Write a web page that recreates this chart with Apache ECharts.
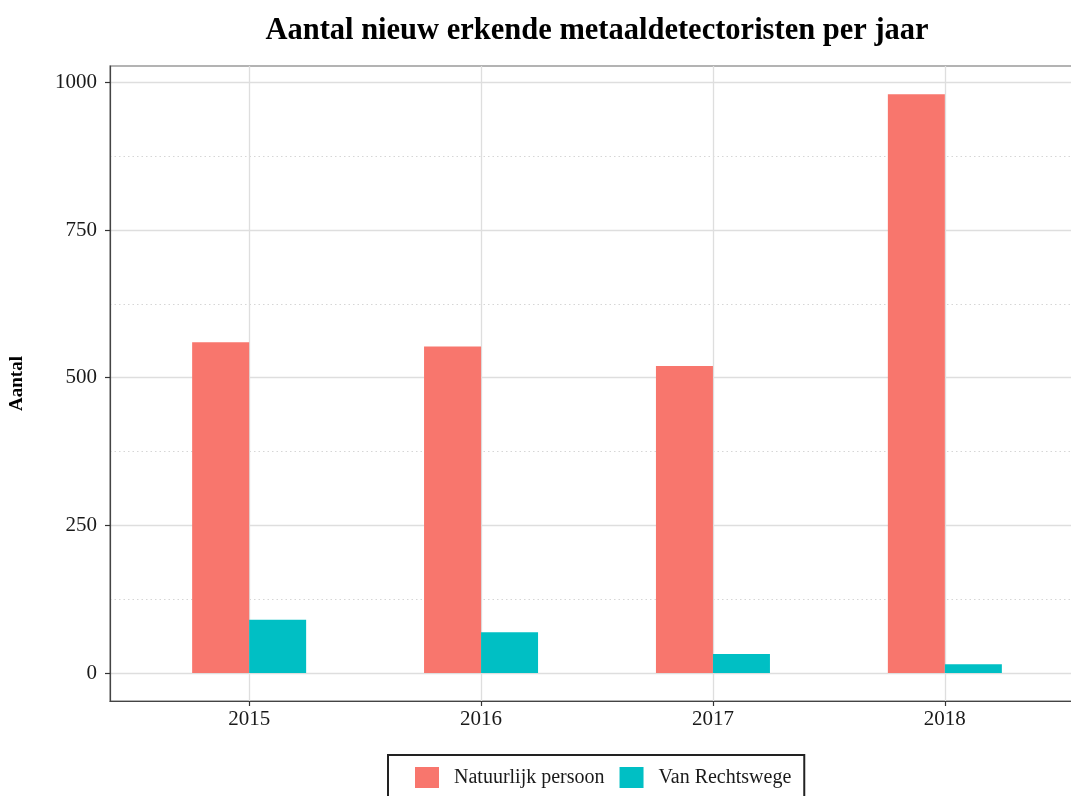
<!DOCTYPE html>
<html>
<head>
<meta charset="utf-8">
<script src="https://cdn.jsdelivr.net/npm/echarts@6/dist/echarts.min.js"></script>
<style>html,body{margin:0;padding:0;background:#fff;}#c{width:1071px;height:796px;}</style>
</head>
<body>
<div id="c"></div>
<script>
const categories = ['2015', '2016', '2017', '2018'];
const natuurlijkPersoon = [560, 553, 520, 980];
const vanRechtswege = [90, 69, 32, 15];
const yTicks = [0, 250, 500, 750, 1000];
const yMinorTicks = [125, 375, 625, 875];
const seriesNames = ['Natuurlijk persoon', 'Van Rechtswege'];

const FONT = '"Liberation Serif", "DejaVu Serif", serif';
const xPos = categories.map((c, i) => i + 1);
const toData = arr => arr.map((v, i) => [xPos[i], v]);

const chart = echarts.init(document.getElementById('c'), null, {renderer: 'canvas'});
chart.setOption({
  backgroundColor: '#ffffff',
  animation: false,
  title: {
    text: 'Aantal nieuw erkende metaaldetectoristen per jaar',
    left: 597, top: 16, padding: 0, textAlign: 'center',
    textStyle: {fontFamily: FONT, fontWeight: 'bold', fontSize: 30.5, color: '#000'}
  },
  legend: {
    data: seriesNames,
    left: 388, top: 755,
    orient: 'horizontal',
    icon: 'rect',
    itemWidth: 24, itemHeight: 21,
    itemGap: 15,
    padding: [12, 13, 12, 27],
    borderColor: '#222', borderWidth: 2,
    textStyle: {fontFamily: FONT, fontSize: 20, color: '#1a1a1a', padding: [0, 0, 0, 10]}
  },
  grid: {
    left: 110, top: 66, right: -13, bottom: 95,
    outerBoundsMode: 'none',
    show: true, borderColor: '#9a9a9a', borderWidth: 1.5,
    containLabel: false
  },
  xAxis: {
    type: 'value', min: 0.4, max: 4.6,
    axisLine: {show: true, onZero: false, lineStyle: {color: '#444', width: 1.2}},
    axisTick: {show: true, customValues: xPos, length: 5, lineStyle: {color: '#333', width: 1.2}},
    axisLabel: {customValues: xPos, margin: 8, fontFamily: FONT, fontSize: 21, color: '#1a1a1a',
      formatter: v => categories[Math.round(v) - 1] || ''},
    splitLine: {show: true, lineStyle: {color: '#dedede', width: 1.3}}
  },
  yAxis: [{
    type: 'value', min: -47.4, max: 1027.8,
    name: 'Aantal', nameLocation: 'middle', nameRotate: 90, nameGap: 83,
    nameTextStyle: {fontFamily: FONT, fontWeight: 'bold', fontSize: 19, color: '#000'},
    axisLine: {show: true, lineStyle: {color: '#444', width: 1.2}},
    axisTick: {show: true, customValues: yTicks, length: 5, lineStyle: {color: '#333', width: 1.2}},
    axisLabel: {customValues: yTicks, margin: 13, fontFamily: FONT, fontSize: 21, color: '#1a1a1a',
      formatter: v => String(v)},
    splitLine: {show: true, lineStyle: {color: '#dedede', width: 1.3}}
  }, {
    type: 'value', min: -47.4, max: 1027.8, position: 'left',
    axisLine: {show: false},
    axisTick: {show: false, customValues: yMinorTicks},
    axisLabel: {show: false, customValues: yMinorTicks},
    splitLine: {show: true, lineStyle: {color: '#d6d6d6', width: 1, type: [1.5, 3]}}
  }],
  series: [{
    name: seriesNames[0], type: 'bar', data: toData(natuurlijkPersoon),
    barWidth: 57, barGap: '0%', itemStyle: {color: '#F8766D'}
  }, {
    name: seriesNames[1], type: 'bar', data: toData(vanRechtswege),
    barWidth: 57, barGap: '0%', itemStyle: {color: '#00BFC4'}
  }]
});
</script>
</body>
</html>
